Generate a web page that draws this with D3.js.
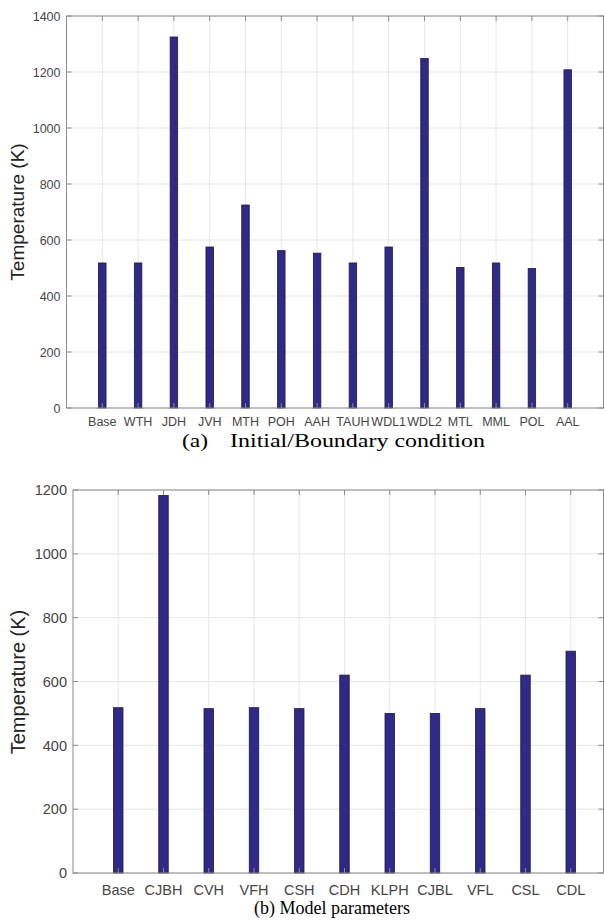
<html>
  <head>
    <style>
      body { margin: 0; background: #fff; }
      svg { display: block; }
    </style>
  </head>
  <body>
    <svg></svg>
    <script src="https://d3js.org/d3.v7.min.js"></script>
    <script>
      let width = 604,
        height = 920;

      // Data
      let catsA = ["Base", "WTH", "JDH", "JVH", "MTH", "POH", "AAH", "TAUH",
        "WDL1", "WDL2", "MTL", "MML", "POL", "AAL"];
      let valsA = [518, 518, 1325, 575, 725, 562, 553, 518, 575, 1248, 502, 518, 498, 1208];
      let ticksA = [0, 200, 400, 600, 800, 1000, 1200, 1400];

      let catsB = ["Base", "CJBH", "CVH", "VFH", "CSH", "CDH", "KLPH", "CJBL", "VFL", "CSL", "CDL"];
      let valsB = [518, 1183, 515, 518, 515, 620, 500, 500, 515, 620, 695];
      let ticksB = [0, 200, 400, 600, 800, 1000, 1200];

      let svg = d3.select("svg").attr("width", width).attr("height", height);

      svg.append("rect").attr("width", width).attr("height", height).attr("fill", "#fff");

      function panel(o) {
        let g = svg.append("g");
        let x = d3.scaleLinear().domain([0, o.cats.length + 1]).range([o.left, o.xEnd]);
        let y = d3.scaleLinear().domain([0, o.ymax]).range([o.bottom, o.top]);
        let right = Math.min(o.xEnd, 603.5);
        let idx = o.cats.map((c, i) => i + 1);

        // grid
        g.selectAll(".vg").data(idx).enter().append("line")
          .attr("x1", (d) => x(d)).attr("x2", (d) => x(d))
          .attr("y1", o.top).attr("y2", o.bottom)
          .attr("stroke", "#e6e6e6").attr("stroke-width", 1);
        g.selectAll(".hg").data(o.ticks).enter().append("line")
          .attr("x1", o.left).attr("x2", right)
          .attr("y1", (d) => y(d)).attr("y2", (d) => y(d))
          .attr("stroke", "#e6e6e6").attr("stroke-width", 1);

        // bars
        let bw = o.barW;
        g.selectAll(".bar").data(o.vals).enter().append("rect")
          .attr("x", (d, i) => x(i + 1) - bw / 2)
          .attr("width", bw)
          .attr("y", (d) => y(d))
          .attr("height", (d) => y(0) - y(d))
          .attr("fill", "#2e2a86")
          .attr("stroke", "#1c1a4a")
          .attr("stroke-width", 0.8);

        // frame
        g.append("rect")
          .attr("x", o.left).attr("y", o.top)
          .attr("width", right - o.left).attr("height", o.bottom - o.top)
          .attr("fill", "none").attr("stroke", "#8a8a8a").attr("stroke-width", 1);

        // ticks
        let tl = 5;
        idx.forEach((d) => {
          g.append("line").attr("x1", x(d)).attr("x2", x(d))
            .attr("y1", o.bottom).attr("y2", o.bottom - tl).attr("stroke", "#8a8a8a");
          g.append("line").attr("x1", x(d)).attr("x2", x(d))
            .attr("y1", o.top).attr("y2", o.top + tl).attr("stroke", "#8a8a8a");
        });
        o.ticks.forEach((d) => {
          g.append("line").attr("x1", o.left).attr("x2", o.left + tl)
            .attr("y1", y(d)).attr("y2", y(d)).attr("stroke", "#8a8a8a");
          g.append("line").attr("x1", right).attr("x2", right - tl)
            .attr("y1", y(d)).attr("y2", y(d)).attr("stroke", "#8a8a8a");
        });

        // tick labels
        g.selectAll(".yl").data(o.ticks).enter().append("text")
          .attr("x", o.left - 6).attr("y", (d) => y(d))
          .attr("dy", "0.36em")
          .attr("text-anchor", "end")
          .attr("font-family", "Liberation Sans, Arial, sans-serif")
          .attr("font-size", o.fs)
          .attr("fill", "#454545")
          .text((d) => d);
        g.selectAll(".xl").data(o.cats).enter().append("text")
          .attr("x", (d, i) => x(i + 1)).attr("y", o.labY)
          .attr("text-anchor", "middle")
          .attr("font-family", "Liberation Sans, Arial, sans-serif")
          .attr("font-size", o.fs)
          .attr("fill", "#454545")
          .text((d) => d);

        // y label
        g.append("text")
          .attr("transform", "translate(" + o.ylx + "," + o.ylc + ") rotate(-90)")
          .attr("text-anchor", "middle")
          .attr("font-family", "Liberation Sans, Arial, sans-serif")
          .attr("font-size", o.yfs)
          .attr("fill", "#222")
          .text("Temperature (K)");
      }

      panel({ cats: catsA, vals: valsA, ticks: ticksA, ymax: 1400,
        left: 66.5, xEnd: 603.5, top: 16, bottom: 408, barW: 7.5,
        fs: 12.5, labY: 426, ylx: 24, ylc: 212, yfs: 19 });

      panel({ cats: catsB, vals: valsB, ticks: ticksB, ymax: 1200,
        left: 73, xEnd: 616, top: 490, bottom: 873, barW: 9.5,
        fs: 14.5, labY: 895, ylx: 25, ylc: 682, yfs: 20 });

      // captions
      let serif = "Liberation Serif, Times New Roman, serif";
      svg.append("text").attr("x", 182).attr("y", 447)
        .attr("font-family", serif).attr("font-size", 18).attr("fill", "#000")
        .attr("textLength", 26).attr("lengthAdjust", "spacingAndGlyphs")
        .text("(a)");
      svg.append("text").attr("x", 230).attr("y", 447)
        .attr("font-family", serif).attr("font-size", 18).attr("fill", "#000")
        .attr("textLength", 255).attr("lengthAdjust", "spacingAndGlyphs")
        .text("Initial/Boundary condition");
      svg.append("text").attr("x", 254).attr("y", 914)
        .attr("font-family", serif).attr("font-size", 18).attr("fill", "#000")
        .text("(b) Model parameters");
    </script>
  </body>
</html>
